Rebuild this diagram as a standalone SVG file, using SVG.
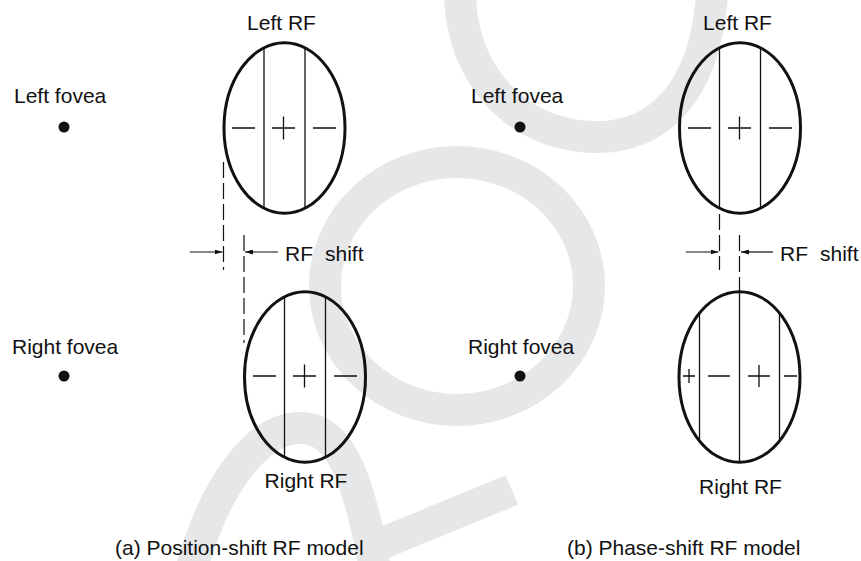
<svg xmlns="http://www.w3.org/2000/svg" width="861" height="561" viewBox="0 0 861 561">
<style>
text{font-family:"Liberation Sans",Arial,sans-serif;font-size:21px;fill:#111}
.rf{fill:none;stroke:#111;stroke-width:3}
.ln{stroke:#111;stroke-width:1.3;fill:none}
.dash{stroke:#111;stroke-width:1.2;stroke-dasharray:16 5;fill:none}
.arr{stroke:#111;stroke-width:1.2;fill:none;marker-end:url(#ah)}
.wm{fill:none;stroke:#e6e7e9;stroke-width:32}
.dot{fill:#111}
</style>
<defs>
<marker id="ah" viewBox="0 0 8 5" refX="8" refY="2.5" markerWidth="8" markerHeight="5" markerUnits="userSpaceOnUse" orient="auto">
<path d="M0,0 L8,2.5 L0,5 z" fill="#111"/>
</marker>
</defs>
<rect width="861" height="561" fill="#fff"/>
<g id="watermark">
<path class="wm" d="M460,-5 C462,70 510,132 590,137 C660,140 705,90 712,-5"/>
<ellipse class="wm" cx="457" cy="286" rx="132" ry="124"/>
<path class="wm" stroke-width="36" d="M190,575 C215,480 260,428 300,428 C338,428 358,470 376,575"/>
<path class="wm" stroke-width="30" stroke-linecap="butt" d="M378,545 L512,490"/>
</g>
<g id="connectors">
<line class="dash" x1="223.5" y1="162" x2="223.5" y2="270"/>
<line class="dash" x1="244" y1="235" x2="244" y2="343"/>
<line class="arr" x1="190" y1="252" x2="222.5" y2="252"/>
<line class="arr" x1="278" y1="252" x2="245" y2="252"/>
<line class="dash" x1="719.5" y1="214" x2="719.5" y2="270"/>
<line class="dash" x1="739.5" y1="235" x2="739.5" y2="291"/>
<line class="arr" x1="686" y1="252" x2="718.5" y2="252"/>
<line class="arr" x1="773" y1="252" x2="741" y2="252"/>
</g>
<g id="a-left-fovea">
<text x="14" y="103">Left fovea</text>
<circle class="dot" cx="64" cy="127" r="5.5"/>
</g>
<g id="a-right-fovea">
<text x="12" y="354">Right fovea</text>
<circle class="dot" cx="64" cy="376" r="5.5"/>
</g>
<g id="a-left-rf">
<text x="281.5" y="30" text-anchor="middle">Left RF</text>
<ellipse class="rf" cx="284.5" cy="128" rx="60.5" ry="85.3"/>
<line class="ln" x1="264" y1="47.5" x2="264" y2="208.5"/>
<line class="ln" x1="305" y1="47.5" x2="305" y2="208.5"/>
<path class="ln" d="M232,128H255M272,128H295M283.5,116.5V139.5M313,128H336"/>
</g>
<g id="a-right-rf">
<ellipse class="rf" cx="305" cy="377" rx="60.5" ry="85.3"/>
<line class="ln" x1="284.5" y1="296.5" x2="284.5" y2="457.5"/>
<line class="ln" x1="325.5" y1="296.5" x2="325.5" y2="457.5"/>
<path class="ln" d="M253,376H276M293,376H316M304.5,364.5V387.5M334,376H357"/>
<text x="306" y="488" text-anchor="middle">Right RF</text>
</g>
<g id="a-shift-label">
<text x="285" y="261">RF<tspan x="325">shift</tspan></text>
</g>
<g id="a-caption">
<text x="115" y="555">(a) Position-shift RF model</text>
</g>
<g id="b-left-fovea">
<text x="471" y="103">Left fovea</text>
<circle class="dot" cx="520" cy="127" r="5.5"/>
</g>
<g id="b-right-fovea">
<text x="468" y="354">Right fovea</text>
<circle class="dot" cx="520" cy="376" r="5.5"/>
</g>
<g id="b-left-rf">
<text x="737.5" y="30" text-anchor="middle">Left RF</text>
<ellipse class="rf" cx="740" cy="128" rx="60.5" ry="85.3"/>
<line class="ln" x1="719.5" y1="47.5" x2="719.5" y2="208.5"/>
<line class="ln" x1="760.5" y1="47.5" x2="760.5" y2="208.5"/>
<path class="ln" d="M688,128H711M728,128H751M739.5,116.5V139.5M769,128H792"/>
</g>
<g id="b-right-rf">
<ellipse class="rf" cx="739.5" cy="377" rx="60.5" ry="85.3"/>
<line class="ln" x1="699.5" y1="313" x2="699.5" y2="441"/>
<line class="ln" x1="739.5" y1="291.7" x2="739.5" y2="462.3"/>
<line class="ln" x1="779.5" y1="313" x2="779.5" y2="441"/>
<path class="ln" d="M683,376H695M689,369V383M708,376H730M748,376H770M759,365V387M784,376H797"/>
<text x="740.5" y="494" text-anchor="middle">Right RF</text>
</g>
<g id="b-shift-label">
<text x="780" y="261">RF<tspan x="820">shift</tspan></text>
</g>
<g id="b-caption">
<text x="567" y="555">(b) Phase-shift RF model</text>
</g>
</svg>
